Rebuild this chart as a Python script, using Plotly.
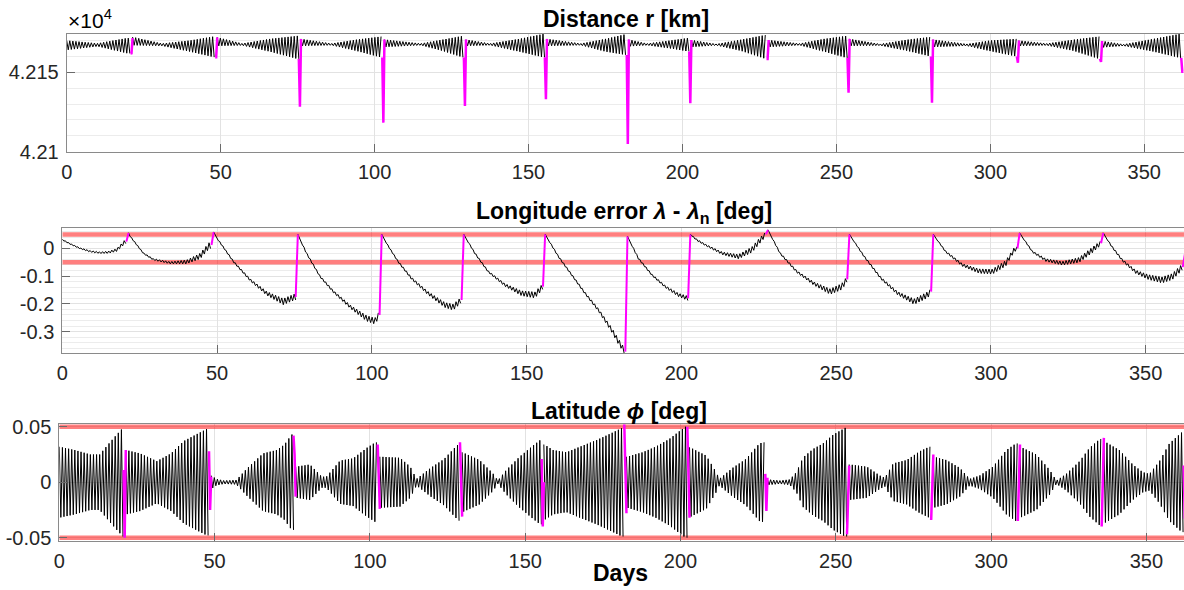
import numpy as np
import plotly.graph_objects as go

# ---------------- shared timing ----------------
maneuver_day = [20.7, 48.2, 75.4, 102.5, 129.0, 155.3, 181.9, 202.2, 227.3, 253.6, 280.7, 308.6, 335.6, 362.0]
maneuver_len = 0.7
last_day = 363.0
x_ticks = [0, 50, 100, 150, 200, 250, 300, 350]

# ---------------- distance r [km]: envelope knots (arc, day, upper, lower) ----------------
dist_arc = [0, 0, 0, 0, 1, 1, 1, 1, 2, 2, 2, 2, 3, 3, 3, 3, 4, 4, 4, 4, 5, 5, 5, 5, 6, 6, 6, 6,
            7, 7, 7, 7, 8, 8, 8, 8, 9, 9, 9, 9, 10, 10, 10, 10, 11, 11, 11, 11, 12, 12, 12, 12, 13, 13, 13, 13]
dist_day = [0, 10, 19.5, 20.7, 21.4, 31, 40, 47.8, 48.9, 57, 66, 75.0, 76.1, 86, 94, 102.2,
            103.2, 115, 122, 128.8, 129.7, 137.5, 147, 155.1, 156.0, 167, 175, 181.7,
            182.6, 188.5, 196, 202.0, 202.9, 211, 219, 227.1, 228.0, 238, 246, 253.4,
            254.3, 264.2, 273, 280.5, 281.4, 292.3, 300, 308.4, 309.3, 318.3, 327, 335.4,
            336.3, 343.3, 353, 361.8]
dist_upper = [42170.0, 42168.2, 42171.5, 42171.5, 42172.2, 42168.1, 42170.0, 42172.5,
              42172.0, 42168.1, 42171.0, 42172.9, 42171.0, 42168.1, 42170.5, 42172.5,
              42170.6, 42168.1, 42170.5, 42172.9, 42170.6, 42168.1, 42171.0, 42174.2,
              42171.0, 42168.1, 42171.0, 42174.0, 42170.6, 42168.1, 42170.0, 42171.6,
              42170.3, 42167.8, 42170.5, 42173.5, 42170.3, 42168.1, 42171.0, 42172.9,
              42171.0, 42167.8, 42170.5, 42172.2, 42170.6, 42167.8, 42170.0, 42171.0,
              42170.0, 42168.1, 42170.5, 42172.5, 42169.7, 42167.6, 42171.0, 42174.2]
dist_lower = [42164.0, 42166.3, 42162.0, 42161.8, 42167.0, 42166.6, 42163.0, 42159.5,
              42166.6, 42166.9, 42163.0, 42158.4, 42166.6, 42167.0, 42163.5, 42159.3,
              42165.9, 42167.0, 42163.5, 42159.3, 42166.6, 42167.0, 42163.0, 42159.3,
              42166.6, 42167.0, 42163.0, 42160.9, 42166.3, 42167.0, 42165.0, 42163.1,
              42165.9, 42166.9, 42163.5, 42158.4, 42165.9, 42167.0, 42163.0, 42159.0,
              42166.6, 42166.8, 42163.5, 42160.0, 42165.9, 42166.6, 42163.3, 42160.0,
              42166.6, 42166.9, 42163.5, 42158.4, 42165.6, 42166.6, 42163.0, 42159.0]
dist_man_from = [42161.8, 42159.5, 42158.4, 42159.3, 42159.3, 42159.3, 42160.9, 42163.1, 42158.4, 42159.0, 42160.0, 42160.0, 42158.4, 42159.0]
dist_man_dip = [42162.0, 42159.5, 42128.3, 42118.3, 42128.8, 42133.0, 42104.8, 42130.5, 42158.4, 42137.2, 42130.9, 42156.0, 42156.5, 42150.4]
dist_man_to = [42171.5, 42172.0, 42171.0, 42170.6, 42170.6, 42171.0, 42170.6, 42170.3, 42170.3, 42171.0, 42170.6, 42170.0, 42169.7, 42150.4]

# ---------------- longitude error [deg]: knots (arc, day, centre, ripple) ----------------
lon_arc = [0]*8 + [1]*8 + [2]*7 + [3]*8 + [4]*8 + [5]*7 + [6]*8 + [7]*6 + [8]*8 + [9]*7 + [10]*7 + [11]*8 + [12]*7 + [13]*8
lon_day = [0, 2.5, 5.7, 9, 12.2, 15, 17.6, 20.3,
           21.4, 22, 26.2, 29.4, 34.8, 40.2, 44.5, 47.5,
           48.9, 50, 55.3, 60.7, 66, 71.4, 75.1,
           76.1, 78.9, 83.3, 87.6, 93, 98.3, 101, 102.3,
           103.2, 105.3, 108.5, 112.8, 118.2, 123.6, 126.3, 128.9,
           129.7, 133.3, 137.6, 143, 148.4, 152.7, 155.2,
           156.0, 160.3, 164.6, 168.9, 173.2, 177.5, 179.7, 181.8,
           182.6, 186.1, 190.5, 194.8, 199.1, 202.1,
           202.9, 205, 207.8, 213.2, 218.5, 222.8, 225.5, 227.2,
           228.0, 231.9, 237.3, 242.7, 248.1, 251.8, 253.5,
           254.3, 259.1, 264.5, 269.9, 275.2, 279.5, 280.6,
           281.4, 285.4, 290.8, 296.2, 300.5, 304.8, 307.5, 308.5,
           309.3, 313.4, 317.7, 323.1, 328.5, 332.8, 335.4,
           336.3, 339.1, 342.4, 346.7, 351, 355.3, 358.6, 361.8]
lon_center = [0.031, 0.016, 0.0, -0.011, -0.016, -0.014, -0.006, 0.024,
              0.055, 0.042, -0.018, -0.040, -0.052, -0.049, -0.028, 0.010,
              0.058, 0.036, -0.048, -0.114, -0.162, -0.192, -0.175,
              0.050, -0.018, -0.102, -0.156, -0.210, -0.252, -0.262, -0.240,
              0.050, 0.008, -0.048, -0.108, -0.162, -0.204, -0.212, -0.186,
              0.050, -0.018, -0.084, -0.132, -0.162, -0.168, -0.138,
              0.050, -0.030, -0.096, -0.162, -0.222, -0.294, -0.336, -0.372,
              0.043, -0.036, -0.096, -0.138, -0.168, -0.180,
              0.050, 0.030, 0.012, -0.018, -0.030, -0.005, 0.030, 0.050,
              0.066, -0.018, -0.084, -0.126, -0.156, -0.138, -0.112,
              0.050, -0.030, -0.108, -0.162, -0.192, -0.168, -0.156,
              0.050, -0.012, -0.060, -0.082, -0.084, -0.054, -0.006, 0.000,
              0.055, -0.012, -0.042, -0.054, -0.042, -0.006, 0.018,
              0.055, 0.006, -0.042, -0.084, -0.104, -0.114, -0.102, -0.068]
lon_ripple = [0.002, 0.002, 0.002, 0.003, 0.003, 0.004, 0.005, 0.007,
              0.001, 0.002, 0.002, 0.003, 0.004, 0.007, 0.010, 0.011,
              0.001, 0.002, 0.003, 0.004, 0.007, 0.011, 0.011,
              0.001, 0.003, 0.003, 0.004, 0.006, 0.010, 0.011, 0.011,
              0.001, 0.002, 0.003, 0.004, 0.006, 0.009, 0.011, 0.010,
              0.001, 0.003, 0.003, 0.005, 0.009, 0.011, 0.010,
              0.001, 0.003, 0.003, 0.004, 0.005, 0.008, 0.010, 0.010,
              0.001, 0.003, 0.003, 0.004, 0.006, 0.008,
              0.001, 0.003, 0.003, 0.005, 0.008, 0.010, 0.010, 0.008,
              0.001, 0.003, 0.004, 0.006, 0.010, 0.011, 0.010,
              0.001, 0.003, 0.004, 0.006, 0.010, 0.011, 0.010,
              0.001, 0.003, 0.005, 0.008, 0.009, 0.010, 0.008, 0.006,
              0.001, 0.003, 0.005, 0.007, 0.009, 0.010, 0.008,
              0.001, 0.003, 0.004, 0.006, 0.009, 0.011, 0.011, 0.011]
lon_man_from = [0.024, 0.012, -0.175, -0.240, -0.186, -0.138, -0.372, -0.180, 0.050, -0.112, -0.156, 0.000, 0.018, -0.068]
lon_man_to = [0.055, 0.058, 0.050, 0.050, 0.050, 0.050, 0.043, 0.050, 0.066, 0.050, 0.050, 0.055, 0.055, -0.020]
lon_limits = [0.05, -0.05]

# ---------------- latitude [deg]: envelope knots (arc, day, amplitude) ----------------
lat_arc = [0]*7 + [1]*7 + [2]*9 + [3]*8 + [4]*8 + [5]*8 + [6]*7 + [7]*6 + [8]*8 + [9]*9 + [10]*8 + [11]*8 + [12]*8 + [13]*8 + [14]*2
lat_day = [0, 5, 10, 13, 16.3, 18.5, 20.5,
           21.5, 26, 31.4, 36, 40, 44, 47.5,
           49, 50.5, 53, 57, 60.3, 65.6, 70, 72.5, 74.8,
           76.2, 80.7, 84.5, 86, 90.4, 94.6, 99, 101.8,
           103.3, 109.7, 113, 115, 119.6, 123.9, 127.6, 128.8,
           129.8, 135.3, 139.6, 141.2, 143.9, 148.2, 152.5, 154.8,
           156.2, 159, 163.3, 167.6, 173, 178.3, 181.2,
           182.8, 187.8, 192, 196.4, 200.1, 201.6,
           203.0, 208.3, 211.5, 212.5, 216.8, 221.1, 225.4, 226.8,
           228, 232, 235.2, 237.3, 239.5, 242.7, 245.9, 249.2, 253.0,
           254.4, 260, 264.2, 265.8, 268.5, 272.8, 277.1, 280.1,
           281.5, 285.6, 289.9, 293.1, 296.3, 300.6, 304.9, 308.0,
           309.4, 314.6, 318.9, 321, 324.2, 328.5, 331.7, 335.0,
           336.4, 341.3, 345.6, 348.9, 351, 354.2, 357.4, 361.4,
           362.8, 365]
lat_amp = [0.032, 0.029, 0.025, 0.025, 0.036, 0.043, 0.049,
           0.029, 0.026, 0.019, 0.026, 0.037, 0.043, 0.048,
           0.006, 0.003, 0.0015, 0.002, 0.012, 0.026, 0.029, 0.034, 0.043,
           0.014, 0.016, 0.005, 0.005, 0.0195, 0.0215, 0.031, 0.036,
           0.023, 0.022, 0.014, 0.003, 0.013, 0.021, 0.032, 0.035,
           0.027, 0.020, 0.008, 0.0015, 0.011, 0.023, 0.033, 0.038,
           0.034, 0.029, 0.027, 0.032, 0.038, 0.045, 0.049,
           0.023, 0.027, 0.032, 0.039, 0.047, 0.050,
           0.0315, 0.024, 0.009, 0.003, 0.013, 0.021, 0.035, 0.036,
           0.0025, 0.0015, 0.0025, 0.009, 0.0225, 0.030, 0.035, 0.043, 0.049,
           0.016, 0.014, 0.006, 0.004, 0.017, 0.020, 0.028, 0.032,
           0.023, 0.020, 0.013, 0.003, 0.006, 0.014, 0.029, 0.035,
           0.032, 0.025, 0.011, 0.0015, 0.0075, 0.019, 0.031, 0.039,
           0.037, 0.029, 0.016, 0.009, 0.0075, 0.019, 0.035, 0.045,
           0.020, 0.020]
lat_man_a = [0.011, 0.028, 0.042, 0.034, 0.036, 0.021, 0.052, 0.050, 0.0075, -0.047, -0.034, -0.035, -0.040, 0.015]
lat_man_b = [-0.050, -0.025, 0.025, 0.000, 0.000, -0.040, 0.000, 0.000, -0.026, 0.000, 0.000, 0.000, 0.000, -0.033]
lat_man_c = [0.029, 0.005, -0.013, -0.024, -0.031, 0.000, -0.028, -0.032, 0.004, 0.015, 0.025, 0.034, 0.040, 0.000]
lat_limits = [0.05, -0.05]


# ---------------- helpers ----------------
def arc_bounds():
    starts = [0.0] + [d + maneuver_len for d in maneuver_day]
    ends = list(maneuver_day) + [last_day]
    return list(zip(starts, ends))


def knots(arc_ids, days, values, k):
    idx = [i for i, a in enumerate(arc_ids) if a == k]
    return np.array([days[i] for i in idx]), np.array([values[i] for i in idx])


def zigzag_arcs(arc_ids, days, va, vb, mode):
    xs, ys = [], []
    for k, (a, b) in enumerate(arc_bounds()):
        if b - a <= 0.05 or k not in arc_ids:
            continue
        t = np.arange(a, b + 1e-9, 0.5)
        d1, v1 = knots(arc_ids, days, va, k)
        sgn = np.where(np.arange(len(t)) % 2 == 0, 1.0, -1.0)
        A = np.interp(t, d1, v1)
        if mode == "band":
            d2, v2 = knots(arc_ids, days, vb, k)
            y = np.where(sgn > 0, A, np.interp(t, d2, v2))
        elif mode == "ripple":
            d2, v2 = knots(arc_ids, days, vb, k)
            y = A + sgn * np.interp(t, d2, v2)
        else:
            y = sgn * A
        xs += list(t) + [None]
        ys += list(y) + [None]
    return xs, ys


def maneuver_path(vals_list):
    xs, ys = [], []
    n = len(vals_list)
    for i, d in enumerate(maneuver_day):
        for j in range(n):
            xs.append(d + maneuver_len * j / (n - 1))
            ys.append(vals_list[j][i])
        xs.append(None)
        ys.append(None)
    return xs, ys


BLACK = "#000000"
MAGENTA = "#ff00ff"
RED = "rgba(255,0,0,0.5)"

fig = go.Figure()

# Panel 1
x1, y1 = zigzag_arcs(dist_arc, dist_day, dist_upper, dist_lower, "band")
fig.add_trace(go.Scatter(x=x1, y=y1, mode="lines", line=dict(color=BLACK, width=1),
                         xaxis="x", yaxis="y", hoverinfo="skip"))
mx, my = maneuver_path([dist_man_from, dist_man_dip, dist_man_to])
fig.add_trace(go.Scatter(x=mx, y=my, mode="lines", line=dict(color=MAGENTA, width=2.5),
                         xaxis="x", yaxis="y", hoverinfo="skip"))

# Panel 2
for lim in lon_limits:
    fig.add_trace(go.Scatter(x=[0, 365], y=[lim, lim], mode="lines", line=dict(color=RED, width=4.5),
                             xaxis="x2", yaxis="y2", hoverinfo="skip"))
x2, y2 = zigzag_arcs(lon_arc, lon_day, lon_center, lon_ripple, "ripple")
fig.add_trace(go.Scatter(x=x2, y=y2, mode="lines", line=dict(color=BLACK, width=1),
                         xaxis="x2", yaxis="y2", hoverinfo="skip"))
mx, my = maneuver_path([lon_man_from, lon_man_to])
fig.add_trace(go.Scatter(x=mx, y=my, mode="lines", line=dict(color=MAGENTA, width=2),
                         xaxis="x2", yaxis="y2", hoverinfo="skip"))

# Panel 3
for lim in lat_limits:
    fig.add_trace(go.Scatter(x=[0, 365], y=[lim, lim], mode="lines", line=dict(color=RED, width=4.5),
                             xaxis="x3", yaxis="y3", hoverinfo="skip"))
x3, y3 = zigzag_arcs(lat_arc, lat_day, lat_amp, None, "amp")
fig.add_trace(go.Scatter(x=x3, y=y3, mode="lines", line=dict(color=BLACK, width=1),
                         xaxis="x3", yaxis="y3", hoverinfo="skip"))
mx, my = maneuver_path([lat_man_a, lat_man_b, lat_man_c])
fig.add_trace(go.Scatter(x=mx, y=my, mode="lines", line=dict(color=MAGENTA, width=2.5),
                         xaxis="x3", yaxis="y3", hoverinfo="skip"))

W, H = 1184, 590
FONT = "Liberation Sans, Arial, Helvetica, sans-serif"
TXT = "#262626"
AXL = "#8a8a8a"
GRID = "#e2e2e2"
MINOR = "#ececec"


def xax(left_px, xmax, anchor):
    return dict(domain=[left_px / W, 1.0], range=[0, xmax], anchor=anchor, automargin=False,
                tickmode="array", tickvals=x_ticks, ticktext=[str(v) for v in x_ticks],
                ticks="inside", ticklen=8, tickcolor="#6a6a6a",
                showline=True, linecolor=AXL, linewidth=1, mirror=True,
                showgrid=True, gridcolor=GRID, gridwidth=1, zeroline=False,
                tickfont=dict(family=FONT, size=20, color=TXT), ticklabelstandoff=2)


def yax(top_px, bot_px, rng, tv, tt, minor_vals, anchor):
    d = dict(domain=[1 - bot_px / H, 1 - top_px / H], range=rng, anchor=anchor, automargin=False,
             tickmode="array", tickvals=tv, ticktext=tt,
             ticks="inside", ticklen=8, tickcolor="#6a6a6a",
             showline=True, linecolor=AXL, linewidth=1, mirror=False,
             showgrid=True, gridcolor=GRID, gridwidth=1, zeroline=False,
             tickfont=dict(family=FONT, size=20, color=TXT), ticklabelstandoff=3)
    if minor_vals:
        d["minor"] = dict(tickmode="array", tickvals=minor_vals, showgrid=True,
                          gridcolor=MINOR, gridwidth=1, ticks="")
    return d


dist_minor = [42110, 42120, 42130, 42140, 42160, 42170]
lon_minor = [-0.36, -0.34, -0.32, -0.28, -0.26, -0.24, -0.22, -0.18, -0.16, -0.14, -0.12,
             -0.08, -0.06, -0.04, -0.02, 0.02, 0.04, 0.06]

fig.update_layout(
    width=W, height=H, autosize=False, margin=dict(l=0, r=0, t=0, b=0, pad=0),
    paper_bgcolor="white", plot_bgcolor="white", showlegend=False,
    xaxis=xax(66.7, 362.9, "y"),
    yaxis=yax(33.5, 151.7, [42100, 42174.4], [42100, 42150], ["4.21", "4.215"], dist_minor, "x"),
    xaxis2=xax(62.3, 362.4, "y2"),
    yaxis2=yax(228.3, 353.3, [-0.378, 0.072], [-0.3, -0.2, -0.1, 0], ["-0.3", "-0.2", "-0.1", "0"], lon_minor, "x2"),
    xaxis3=xax(59.3, 362.1, "y3"),
    yaxis3=yax(424, 541, [-0.053, 0.0525], [-0.05, 0, 0.05], ["-0.05", "0", "0.05"], None, "x3"),
)


def ann(text, xpx, ypx, size=23, xanchor="center"):
    fig.add_annotation(text=text, x=xpx / W, y=1 - ypx / H, xref="paper", yref="paper",
                       showarrow=False, xanchor=xanchor, yanchor="middle",
                       font=dict(family=FONT, size=size, color="#000000"))


ann("<b>Distance r [km]</b>", 626, 19)
ann("<b>Longitude error <i>λ</i> - <i>λ</i><sub>n</sub> [deg]</b>", 624, 212)
ann("<b>Latitude <i>ϕ</i> [deg]</b>", 619, 411)
ann("<b>Days</b>", 620, 573)
ann("×10<sup>4</sup>", 66, 19, size=21, xanchor="left")

fig.write_html("out.html")
